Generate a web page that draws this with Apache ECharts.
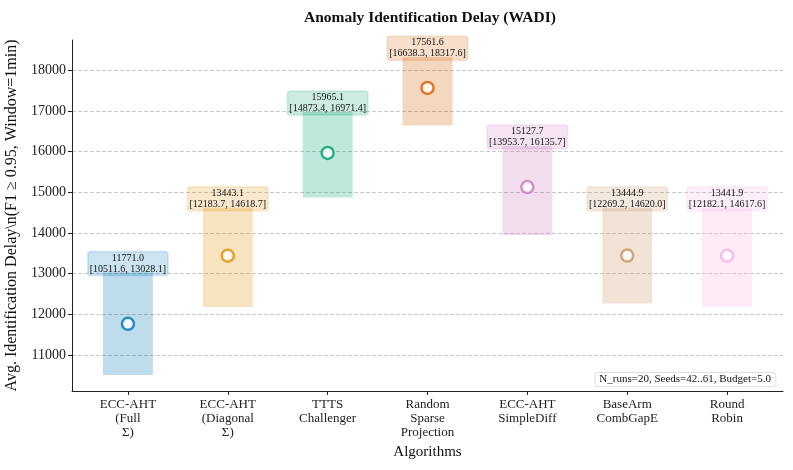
<!DOCTYPE html>
<html>
<head>
<meta charset="utf-8">
<script src="https://cdn.jsdelivr.net/npm/echarts@6/dist/echarts.min.js"></script>
<style>html,body{margin:0;padding:0;background:#fff}#c{width:793px;height:470px}</style>
</head>
<body>
<div id="c"></div>
<script>
const categories = ["ECC-AHT\n(Full\nΣ)", "ECC-AHT\n(Diagonal\nΣ)", "TTTS\nChallenger", "Random\nSparse\nProjection", "ECC-AHT\nSimpleDiff", "BaseArm\nCombGapE", "Round\nRobin"];
const means = [11771.0, 13443.1, 15965.1, 17561.6, 15127.7, 13444.9, 13441.9];
const lows  = [10511.6, 12183.7, 14873.4, 16638.3, 13953.7, 12269.2, 12182.1];
const highs = [13028.1, 14618.7, 16971.4, 18317.6, 16135.7, 14620.0, 14617.6];
const colors = ["#0173b2", "#de8f05", "#029e73", "#d55e00", "#cc78bc", "#ca9161", "#fbafe4"];
const yTicks = [11000, 12000, 13000, 14000, 15000, 16000, 17000, 18000];
const xTicks = [0, 1, 2, 3, 4, 5, 6];

function rgba(hex, a) {
  const r = parseInt(hex.slice(1,3),16), g = parseInt(hex.slice(3,5),16), b = parseInt(hex.slice(5,7),16);
  return `rgba(${r},${g},${b},${a})`;
}
const SERIF = '"Liberation Serif", "DejaVu Serif", serif';

const chart = echarts.init(document.getElementById('c'), null, {renderer: 'canvas'});
const option = {
  animation: false,
  backgroundColor: '#fff',
  title: [
    {text: 'Anomaly Identification Delay (WADI)', left: 299, top: 5,
     textStyle: {fontFamily: SERIF, fontWeight: 'bold', fontSize: 15.5, color: '#111'}},
    {text: 'N_runs=20, Seeds=42..61, Budget=5.0', right: 17, bottom: 83,
     padding: [2, 5], borderColor: '#ddd', borderWidth: 1, borderRadius: 3, backgroundColor: '#fff',
     textStyle: {fontFamily: SERIF, fontWeight: 'normal', fontSize: 11, color: '#111'}}
  ],
  grid: {left: 72, right: 10, top: 40, bottom: 79, containLabel: false, outerBoundsMode: 'none'},
  xAxis: {
    type: 'value', min: -0.56, max: 6.56,
    name: 'Algorithms', nameLocation: 'middle', nameGap: 54,
    nameTextStyle: {fontFamily: SERIF, fontSize: 15, color: '#111'},
    axisLine: {show: true, onZero: false, lineStyle: {color: '#222', width: 1}},
    axisTick: {show: true, length: 4, customValues: xTicks, lineStyle: {color: '#222'}},
    axisLabel: {customValues: xTicks, margin: 7, fontFamily: SERIF, fontSize: 13, lineHeight: 14, color: '#222',
      formatter: v => categories[Math.round(v)] || ''},
    splitLine: {show: false}
  },
  yAxis: {
    type: 'value', min: 10120, max: 18740,
    name: 'Avg. Identification Delay\\n(F1 ≥ 0.95, Window=1min)', nameLocation: 'middle', nameGap: 49,
    nameTextStyle: {fontFamily: SERIF, fontSize: 16, color: '#111'},
    axisLine: {show: true, onZero: false, lineStyle: {color: '#222', width: 1}},
    axisTick: {show: true, length: 4, customValues: yTicks, lineStyle: {color: '#222'}},
    axisLabel: {customValues: yTicks, margin: 6, fontFamily: SERIF, fontSize: 14, color: '#222',
      formatter: v => String(v)},
    splitLine: {show: true, lineStyle: {color: '#bbb', type: [4, 2], width: 0.8}}
  },
  series: [
    {
      type: 'custom',
      data: categories.map((c, i) => [i, lows[i], highs[i], means[i]]),
      renderItem: function (params, api) {
        const i = api.value(0);
        const p0 = api.coord([i - 0.25, api.value(1)]);
        const p1 = api.coord([i + 0.25, api.value(2)]);
        const col = colors[i];
        const label = means[i].toFixed(1) + '\n[' + lows[i].toFixed(1) + ', ' + highs[i].toFixed(1) + ']';
        return {
          type: 'group',
          children: [
            {type: 'rect', shape: {x: p0[0], y: p1[1], width: p1[0] - p0[0], height: p0[1] - p1[1]},
             style: {fill: rgba(col, 0.25)}},
            {type: 'text', x: (p0[0] + p1[0]) / 2, y: p1[1] + 3,
             style: {text: label, align: 'center', verticalAlign: 'bottom',
                     font: '10px ' + SERIF, fill: '#111', lineHeight: 11,
                     backgroundColor: rgba(col, 0.2), borderColor: rgba(col, 0.12), borderWidth: 1,
                     borderRadius: 3, padding: [1, 2]}}
          ]
        };
      },
      z: 2
    },
    {
      type: 'scatter',
      symbol: 'circle', symbolSize: 12,
      data: means.map((m, i) => ({value: [i, m], itemStyle: {color: '#fff', borderColor: colors[i], borderWidth: 2.5}})),
      z: 3
    }
  ]
};
chart.setOption(option);
</script>
</body>
</html>
